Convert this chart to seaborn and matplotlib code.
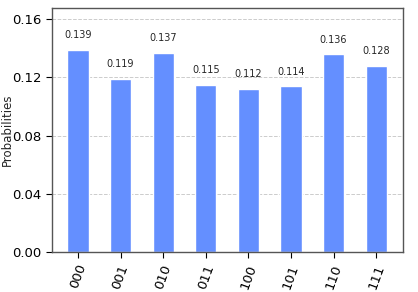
import matplotlib
matplotlib.use("Agg")
import matplotlib.pyplot as plt
import seaborn as sns
import pandas as pd

states = ["000", "001", "010", "011", "100", "101", "110", "111"]
probs = [0.139, 0.119, 0.137, 0.115, 0.112, 0.114, 0.136, 0.128]
yticks = [0.00, 0.04, 0.08, 0.12, 0.16]

sns.set_style("white")
plt.rcParams['font.family'] = ['DejaVu Sans']

df = pd.DataFrame({"state": states, "prob": probs})
fig = plt.figure(figsize=(4.18, 2.92), dpi=100)
ax = fig.add_axes([52/418, 40/292, 351/418, 244/292])
ax.set_axisbelow(True)
ax.yaxis.grid(True, linestyle="--", color="#cccccc", linewidth=0.7)
sns.barplot(data=df, x="state", y="prob", color="#648fff", width=0.5,
            saturation=1, ax=ax)
for i, p in enumerate(probs):
    ax.text(i, p + 0.0065, f"{p:.3f}", ha="center", va="bottom", fontsize=7)
ax.set_xlim(-0.61, 7.63)
ax.set_ylim(0, 0.1676)
ax.set_yticks(yticks)
ax.set_yticklabels([f"{t:.2f}" for t in yticks], fontsize=9.5)
ax.set_xticks(range(len(states)))
ax.set_xticklabels(states, rotation=70, fontsize=9.5)
ax.tick_params(axis="both", length=4, width=0.8, colors="black", bottom=True, left=True)
ax.set_xlabel("")
ax.set_ylabel("Probabilities", fontsize=8.5)
ax.yaxis.set_label_coords(-38/351, 0.5)
for s in ax.spines.values():
    s.set_color("#555555")
    s.set_linewidth(1)
fig.savefig("out.png", dpi=100)
